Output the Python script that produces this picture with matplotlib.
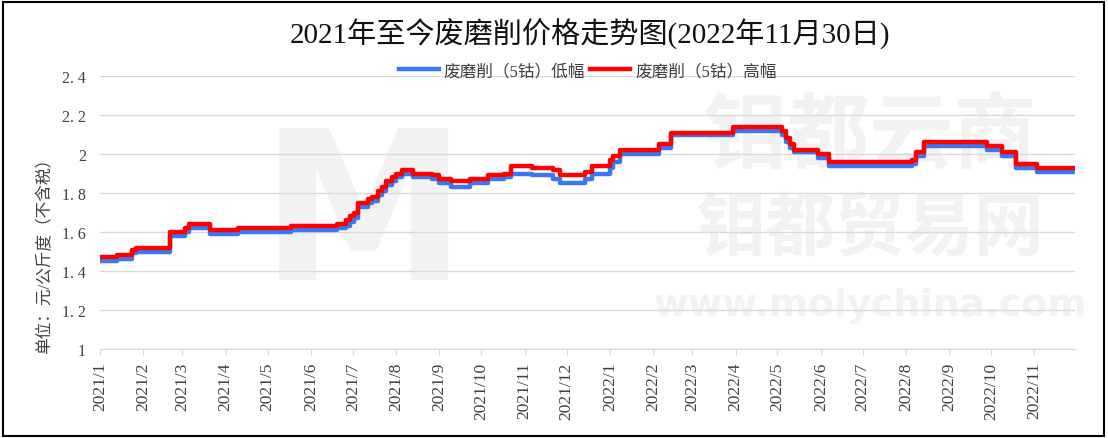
import matplotlib
matplotlib.use("Agg")
import matplotlib.pyplot as plt
import pandas as pd
from matplotlib.patches import Rectangle

plt.rcParams['font.family'] = ['Liberation Serif', 'Noto Sans CJK SC', 'DejaVu Sans']

# step points (date, high, low)
dates = ['2021-01-01', '2021-01-13', '2021-01-24', '2021-01-27', '2021-02-20',
         '2021-03-03', '2021-03-06', '2021-03-21', '2021-04-10', '2021-05-18',
         '2021-06-20', '2021-06-26', '2021-06-29', '2021-07-02', '2021-07-05',
         '2021-07-12', '2021-07-15', '2021-07-19', '2021-07-22', '2021-07-25',
         '2021-07-29', '2021-08-01', '2021-08-05', '2021-08-13', '2021-08-27',
         '2021-09-01', '2021-09-09', '2021-09-23', '2021-10-06', '2021-10-17',
         '2021-10-22', '2021-11-06', '2021-11-21', '2021-11-26', '2021-12-14',
         '2021-12-19', '2022-01-01', '2022-01-03', '2022-01-08', '2022-02-05',
         '2022-02-14', '2022-03-30', '2022-05-04', '2022-05-07', '2022-05-10',
         '2022-05-13', '2022-05-30', '2022-06-07', '2022-08-05', '2022-08-08',
         '2022-08-14', '2022-09-28', '2022-10-09', '2022-10-19', '2022-11-03',
         '2022-11-30']
high = [1.47, 1.48, 1.51, 1.52, 1.60, 1.62, 1.64, 1.61, 1.62, 1.63,
        1.64, 1.66, 1.68, 1.70, 1.75, 1.77, 1.78, 1.81, 1.83, 1.86,
        1.88, 1.90, 1.92, 1.90, 1.89, 1.87, 1.86, 1.87, 1.89, 1.90,
        1.94, 1.93, 1.92, 1.89, 1.91, 1.94, 1.97, 1.99, 2.02, 2.05,
        2.11, 2.14, 2.12, 2.08, 2.05, 2.02, 2.00, 1.96, 1.97, 2.01,
        2.06, 2.04, 2.01, 1.95, 1.93, 1.93]
low = [1.45, 1.46, 1.49, 1.50, 1.58, 1.60, 1.62, 1.59, 1.60, 1.61,
       1.62, 1.63, 1.65, 1.67, 1.73, 1.75, 1.76, 1.79, 1.81, 1.84,
       1.86, 1.88, 1.90, 1.88, 1.87, 1.85, 1.83, 1.85, 1.87, 1.88,
       1.90, 1.89, 1.87, 1.85, 1.87, 1.90, 1.93, 1.96, 2.00, 2.03,
       2.10, 2.12, 2.10, 2.06, 2.03, 2.01, 1.98, 1.94, 1.95, 1.99,
       2.04, 2.02, 1.99, 1.93, 1.91, 1.91]

title = '2021年至今废磨削价格走势图(2022年11月30日)'
label_low = '废磨削（5钴）低幅'
label_high = '废磨削（5钴）高幅'
ylabel = '单位：元/公斤度（不含税）'
yticks = [1, 1.2, 1.4, 1.6, 1.8, 2, 2.2, 2.4]

x = pd.to_datetime(dates)

fig = plt.figure(figsize=(11.08, 4.39), dpi=100)
ax = fig.add_axes([100 / 1108, 1 - 350 / 439, 975 / 1108, 273 / 439])

# faint watermark
wm = '#f2f2f2'
ax.text(0.27, 0.47, 'M', transform=ax.transAxes, fontsize=150, color=wm,
        fontweight='bold', ha='center', va='center', family='DejaVu Sans', zorder=0)
ax.text(0.79, 0.78, '钼都云商', transform=ax.transAxes, fontsize=60, color=wm,
        fontweight='bold', ha='center', va='center', family='Noto Sans CJK SC', zorder=0)
ax.text(0.79, 0.44, '钼都贸易网', transform=ax.transAxes, fontsize=50, color=wm,
        fontweight='bold', ha='center', va='center', family='Noto Sans CJK SC', zorder=0)
ax.text(0.79, 0.16, 'www.molychina.com', transform=ax.transAxes, fontsize=27, color=wm,
        fontweight='bold', ha='center', va='center', family='DejaVu Sans', zorder=0)

ax.plot(x, low, drawstyle='steps-post', color='#3a78f2', lw=3.2, label=label_low, zorder=3)
ax.plot(x, high, drawstyle='steps-post', color='#ff0000', lw=3.2, label=label_high, zorder=4)

ax.set_ylim(1, 2.4)
ax.set_xlim(pd.Timestamp('2021-01-01'), pd.Timestamp('2022-11-30'))
ax.set_yticks(yticks)
ax.set_yticklabels([f'{v:g}'.replace('.', '. ') for v in yticks], fontsize=11.5)
ax.yaxis.grid(True, color='#d9d9d9', lw=1)
ax.set_axisbelow(True)

months = pd.date_range('2021-01-01', '2022-11-01', freq='MS')
ax.set_xticks(months)
ax.set_xticklabels([f'{d.year}/{d.month}' for d in months], rotation=90, fontsize=12.5)

for s in ['top', 'right', 'left']:
    ax.spines[s].set_visible(False)
ax.spines['bottom'].set_color('#d9d9d9')
ax.tick_params(axis='y', length=0, pad=10, colors='#404040')
ax.tick_params(axis='x', length=4, color='#d9d9d9', labelcolor='#404040', pad=5)

fig.text(590 / 1108, 1 - 33 / 439, title, fontsize=21, ha='center', va='center', color='#111111')
fig.text(45 / 1108, 1 - 252 / 439, ylabel, fontsize=12, rotation=90, ha='center', va='center',
         color='#404040')

ax.legend(loc='center', bbox_to_anchor=(0.5, 1 + 5 / 273), ncol=2, frameon=False,
          fontsize=12, handlelength=2.4, columnspacing=0.3, handletextpad=0.3,
          borderpad=0.1, labelcolor='#404040')

fig.patches.append(Rectangle((3 / 1108, 2 / 439), 1101 / 1108, 434 / 439,
                             transform=fig.transFigure, fill=False, ec='black', lw=1.5))

fig.savefig('out.png', dpi=100)
